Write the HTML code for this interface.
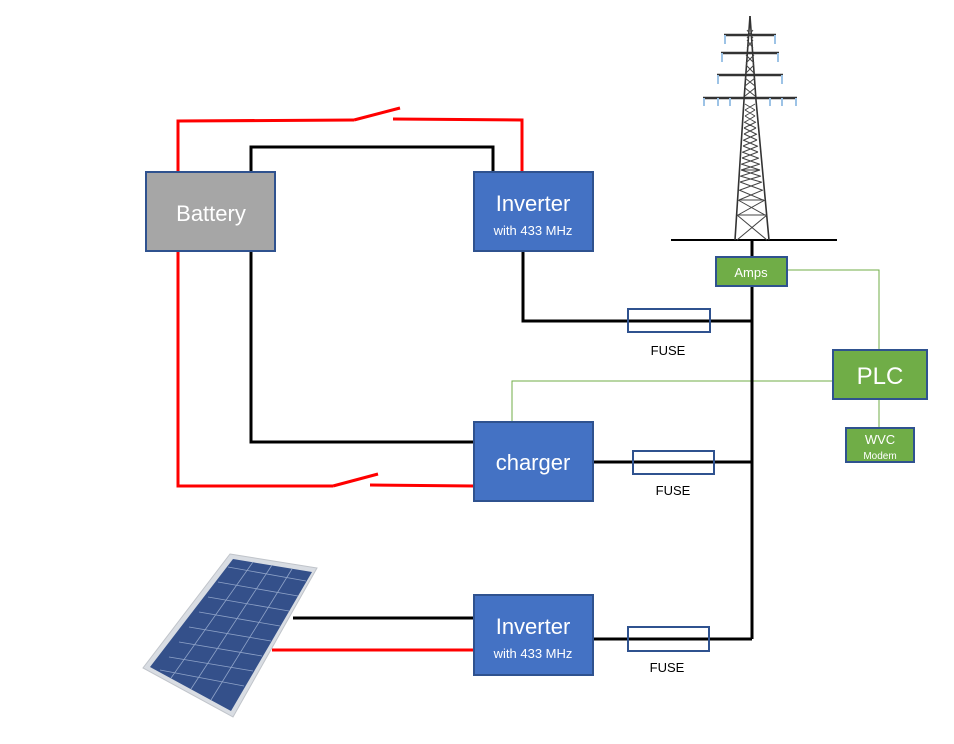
<!DOCTYPE html>
<html><head><meta charset="utf-8"><style>
html,body{margin:0;padding:0;background:#fff;}
svg{display:block;}
text{font-family:"Liberation Sans",sans-serif;}
</style></head><body>
<svg width="954" height="744" viewBox="0 0 954 744" xmlns="http://www.w3.org/2000/svg">
<rect width="954" height="744" fill="#fff"/>
<g stroke="#70ad47" stroke-width="1" fill="none">
<polyline points="787,270 879,270 879,350"/>
<polyline points="833,381 512,381 512,422"/>
<line x1="879" y1="399" x2="879" y2="428"/>
</g>
<g stroke="#ff0000" stroke-width="3" fill="none">
<polyline points="178,172 178,121 354,120"/>
<line x1="354" y1="120" x2="400" y2="108"/>
<polyline points="393,119 522,120 522,172"/>
<polyline points="178,251 178,486 333,486"/>
<line x1="333" y1="486" x2="378" y2="474"/>
<line x1="370" y1="485" x2="474" y2="486"/>
<line x1="272" y1="650" x2="474" y2="650"/>
</g>
<g stroke="#000" stroke-width="3" fill="none">
<polyline points="251,172 251,147 493,147 493,172"/>
<polyline points="251,251 251,442 474,442"/>
<polyline points="523,251 523,321 752,321"/>
<line x1="752" y1="240" x2="752" y2="639"/>
<line x1="593" y1="462" x2="752" y2="462"/>
<line x1="593" y1="639" x2="752" y2="639"/>
<line x1="293" y1="618" x2="474" y2="618"/>
</g>
<line x1="671" y1="240" x2="837" y2="240" stroke="#000" stroke-width="2"/>
<!-- tower -->
<g stroke="#333" stroke-width="1.6" fill="none">
<polyline points="750,16 744,100 735,240"/>
<polyline points="750,16 756,100 769,240"/>
<line x1="724" y1="35" x2="776" y2="35" stroke-width="2.5"/><line x1="721" y1="53" x2="779" y2="53" stroke-width="2.5"/>
<line x1="717" y1="75" x2="783" y2="75" stroke-width="2.5"/><line x1="703" y1="98" x2="797" y2="98" stroke-width="2.5"/>
</g>
<g stroke="#444" stroke-width="1" fill="none">
<path d="M747,30 L753,38 M753,30 L747,38 M747,40 L753,48 M753,40 L747,48 M746,55 L754,63 M754,55 L746,63 M746,65 L754,73 M754,65 L746,73 M745,78 L755,86 M755,78 L745,86 M745,88 L755,96 M755,88 L745,96"/>
<path d="M745,104 L755,110 M755,104 L745,110 M745,110 L755,116 M755,110 L745,116 M745,116 L755,122 M755,116 L745,122 M744,122 L756,128 M756,122 L744,128 M744,128 L756,134 M756,128 L744,134 M744,134 L757,140 M757,134 L744,140 M743,140 L757,146 M757,140 L743,146 M743,146 L758,152 M758,146 L743,152 M742,152 L758,158 M758,152 L742,158 M742,158 L759,164 M759,158 L742,164 M741,164 L760,170 M760,164 L741,170 M741,170 L760,176 M760,170 L741,176 M740,176 L761,182 M761,176 L740,182 M740,182 L762,190 M762,182 L740,190 M739,190 L763,200 M763,190 L739,200 M738,200 L765,215 M765,200 L738,215 M737,215 L767,240 M767,215 L737,240"/>
<line x1="739" y1="200" x2="764" y2="200"/><line x1="737" y1="215" x2="766" y2="215"/><line x1="741" y1="170" x2="760" y2="170"/>
</g>
<g stroke="#9dc3e6" stroke-width="2">
<line x1="725" y1="35" x2="725" y2="44"/><line x1="775" y1="35" x2="775" y2="44"/>
<line x1="722" y1="53" x2="722" y2="62"/><line x1="778" y1="53" x2="778" y2="62"/>
<line x1="718" y1="75" x2="718" y2="84"/><line x1="782" y1="75" x2="782" y2="84"/>
<line x1="704" y1="98" x2="704" y2="106"/><line x1="718" y1="98" x2="718" y2="106"/><line x1="730" y1="98" x2="730" y2="106"/>
<line x1="770" y1="98" x2="770" y2="106"/><line x1="782" y1="98" x2="782" y2="106"/><line x1="796" y1="98" x2="796" y2="106"/>
</g>
<!-- solar panel -->
<polygon points="230,554 317,568 233,717 143,668" fill="#d9dde3" stroke="#c0c4ca"/>
<polygon points="233,559 312,572 231,711 150,667" fill="#34508a"/>
<g stroke="#8fa3c8" stroke-width="0.8">
<line x1="253" y1="562" x2="171" y2="678"/><line x1="272" y1="565" x2="191" y2="689"/><line x1="292" y1="569" x2="211" y2="700"/>
<line x1="228" y1="567" x2="306" y2="581"/><line x1="218" y1="582" x2="298" y2="596"/><line x1="208" y1="597" x2="289" y2="611"/>
<line x1="199" y1="612" x2="280" y2="626"/><line x1="189" y1="627" x2="271" y2="641"/><line x1="179" y1="642" x2="262" y2="656"/>
<line x1="169" y1="657" x2="253" y2="671"/><line x1="160" y1="670" x2="244" y2="686"/>
</g>
<g stroke="#2f528f" stroke-width="2">
<rect x="146" y="172" width="129" height="79" fill="#a6a6a6"/>
<rect x="474" y="172" width="119" height="79" fill="#4472c4"/>
<rect x="474" y="422" width="119" height="79" fill="#4472c4"/>
<rect x="474" y="595" width="119" height="80" fill="#4472c4"/>
<rect x="716" y="257" width="71" height="29" fill="#70ad47"/>
<rect x="833" y="350" width="94" height="49" fill="#70ad47"/>
<rect x="846" y="428" width="68" height="34" fill="#70ad47"/>
<rect x="628" y="309" width="82" height="23" fill="none"/>
<rect x="633" y="451" width="81" height="23" fill="none"/>
<rect x="628" y="627" width="81" height="24" fill="none"/>
</g>
<g fill="#fff" text-anchor="middle">
<text x="211" y="221" font-size="22">Battery</text>
<text x="533" y="211" font-size="22">Inverter</text>
<text x="533" y="235" font-size="13">with 433 MHz</text>
<text x="533" y="470" font-size="22">charger</text>
<text x="533" y="634" font-size="22">Inverter</text>
<text x="533" y="658" font-size="13">with 433 MHz</text>
<text x="751" y="277" font-size="13">Amps</text>
<text x="880" y="384" font-size="24">PLC</text>
<text x="880" y="444" font-size="13">WVC</text>
<text x="880" y="459" font-size="10">Modem</text>
</g>
<g fill="#000" text-anchor="middle" font-size="13">
<text x="668" y="355">FUSE</text>
<text x="673" y="495">FUSE</text>
<text x="667" y="672">FUSE</text>
</g>
</svg>
</body></html>
